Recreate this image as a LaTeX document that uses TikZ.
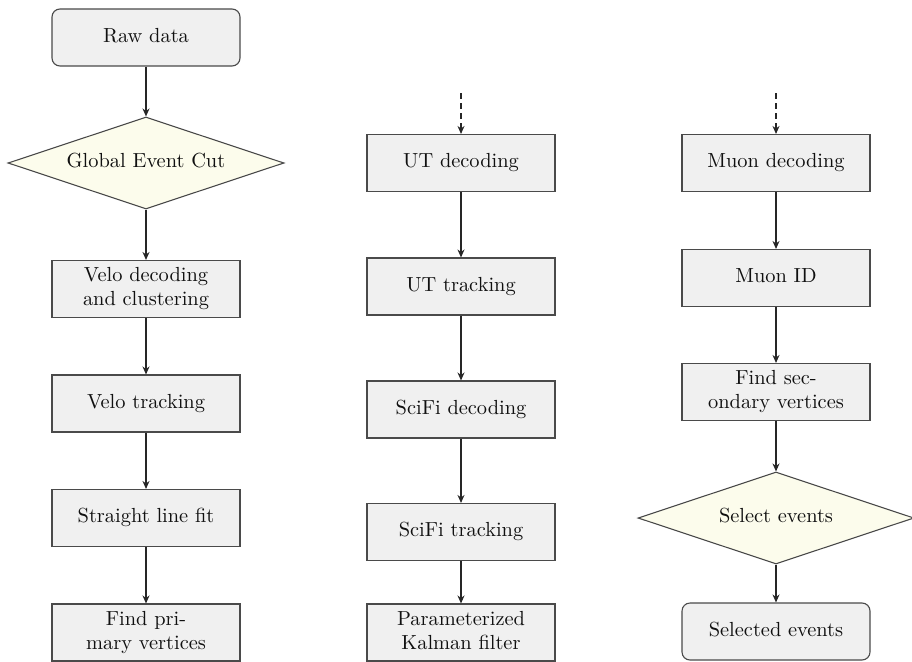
\documentclass[tikz,border=0pt]{standalone}
\usepackage{graphicx}
\usetikzlibrary{shapes.geometric,arrows.meta}
\definecolor{boxfill}{HTML}{F0F0F0}
\definecolor{decfill}{HTML}{FCFCEC}
\definecolor{edge}{HTML}{4A4A4A}
\definecolor{txt}{HTML}{101010}
\newcommand{\lbl}[1]{\scalebox{2.04}{\begin{tabular}{@{}c@{}}#1\end{tabular}}}
\tikzset{
  base/.style={draw=edge, line width=1.1pt, text=txt, align=center,
    font=\fontsize{10}{11.8}\selectfont, inner sep=0pt},
  stepbox/.style={base, rectangle, fill=boxfill, minimum width=188pt, minimum height=57pt},
  termbox/.style={stepbox, rounded corners=8pt},
  decbox/.style={base, diamond, aspect=3, fill=decfill, minimum width=276pt, minimum height=92pt},
  flow/.style={-{Stealth[length=8pt,width=7pt]}, line width=1.1pt, black!85},
  flowdash/.style={flow, dash pattern=on 6pt off 4pt}
}
\begin{document}
\begin{tikzpicture}[x=1pt,y=-1pt]
\useasboundingbox (0,0) rectangle (912,661);
% column 1
\node[termbox] (raw) at (146,37.5) {\lbl{Raw data}};
\node[decbox] (gec) at (146,163) {\lbl{Global Event Cut}};
\node[stepbox] (velodec) at (146,289) {\lbl{Velo decoding\\and clustering}};
\node[stepbox] (velotr) at (146,403.5) {\lbl{Velo tracking}};
\node[stepbox] (slf) at (146,518) {\lbl{Straight line fit}};
\node[stepbox] (fpv) at (146,632.5) {\lbl{Find pri-\\mary vertices}};
\draw[flow] (raw) -- (gec);
\draw[flow] (gec) -- (velodec);
\draw[flow] (velodec) -- (velotr);
\draw[flow] (velotr) -- (slf);
\draw[flow] (slf) -- (fpv);
% column 2
\coordinate (in2) at (461,93);
\node[stepbox] (utdec) at (461,163) {\lbl{UT decoding}};
\node[stepbox] (uttr) at (461,286.5) {\lbl{UT tracking}};
\node[stepbox] (scdec) at (461,409.5) {\lbl{SciFi decoding}};
\node[stepbox] (sctr) at (461,532) {\lbl{SciFi tracking}};
\node[stepbox] (kal) at (461,632.5) {\lbl{Parameterized\\Kalman filter}};
\draw[flowdash] (in2) -- (utdec);
\draw[flow] (utdec) -- (uttr);
\draw[flow] (uttr) -- (scdec);
\draw[flow] (scdec) -- (sctr);
\draw[flow] (sctr) -- (kal);
% column 3
\coordinate (in3) at (776,93);
\node[stepbox] (mudec) at (776,163) {\lbl{Muon decoding}};
\node[stepbox] (muid) at (776,278) {\lbl{Muon ID}};
\node[stepbox] (fsv) at (776,392) {\lbl{Find sec-\\ondary vertices}};
\node[decbox] (sel) at (776,518) {\lbl{Select events}};
\node[termbox] (seld) at (776,631.5) {\lbl{Selected events}};
\draw[flowdash] (in3) -- (mudec);
\draw[flow] (mudec) -- (muid);
\draw[flow] (muid) -- (fsv);
\draw[flow] (fsv) -- (sel);
\draw[flow] (sel) -- (seld);
\end{tikzpicture}
\end{document}
